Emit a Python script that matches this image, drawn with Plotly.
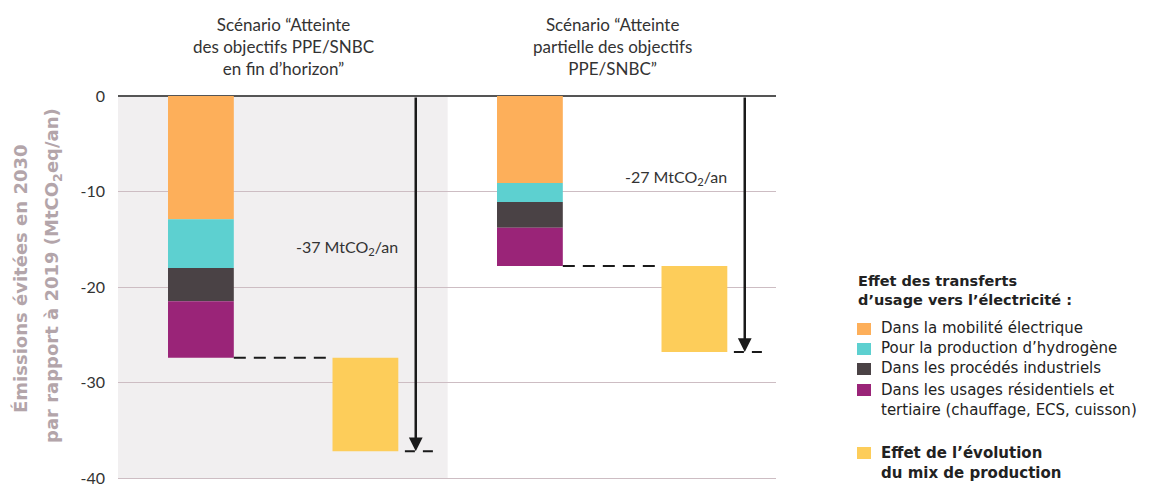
import plotly.graph_objects as go

# ---- data (MtCO2/an, avoided emissions, shown as negative) ----
scenarios = ["Scénario “Atteinte<br>des objectifs PPE/SNBC<br>en fin d’horizon”",
             "Scénario “Atteinte<br>partielle des objectifs<br>PPE/SNBC”"]
mobilite = [12.9, 9.1]
hydrogene = [5.1, 2.0]
industrie = [3.5, 2.7]
residentiel = [5.9, 4.0]
mix = [9.8, 9.0]
total_labels = ["-37 MtCO<sub>2</sub>/an", "-27 MtCO<sub>2</sub>/an"]
label_y = [-15.9, -8.5]

series = [
    ("Dans la mobilité électrique", mobilite, "#FDAF5A"),
    ("Pour la production d’hydrogène", hydrogene, "#5DD0D0"),
    ("Dans les procédés industriels", industrie, "#4A4245"),
    ("Dans les usages résidentiels et<br>tertiaire (chauffage, ECS, cuisson)", residentiel, "#9A2478"),
]
mix_name = "<b>Effet de l’évolution<br>du mix de production</b>"
mix_color = "#FDCD5A"

yticks = [0, -10, -20, -30, -40]

# page offset (default body margin) compensation
OFF = 8
W, H = 1153 - OFF, 485 - OFF
ML, MR, MT, MB = 118 - OFF, 377, 96 - OFF, 5
PW, PH = W - ML - MR, H - MT - MB
YMIN = -40.2

xpos = list(range(len(scenarios)))
BW = 0.2
XMIX = 0.5
XARR = 0.653

fig = go.Figure()

cum = [0.0] * len(scenarios)
for name, vals, col in series:
    fig.add_trace(go.Bar(x=xpos, y=[-v for v in vals], base=[-c for c in cum],
                         width=BW, marker=dict(color=col, line=dict(width=0)),
                         name=name, showlegend=False, hoverinfo="skip"))
    cum = [c + v for c, v in zip(cum, vals)]
elec_total = cum[:]
fig.add_trace(go.Bar(x=[x + XMIX for x in xpos], y=[-v for v in mix],
                     base=[-c for c in elec_total], width=BW,
                     marker=dict(color=mix_color, line=dict(width=0)),
                     name=mix_name, showlegend=False, hoverinfo="skip"))
grand_total = [c + v for c, v in zip(elec_total, mix)]

shapes = []
shapes.append(dict(type="rect", xref="paper", yref="y", x0=0, x1=(0.75 + 0.252) / 2.0,
                   y0=yticks[-1], y1=0, fillcolor="#F1EFF0", line=dict(width=0), layer="below"))
annotations = []
for i, x in enumerate(xpos):
    shapes.append(dict(type="line", xref="x", yref="y", x0=x + BW / 2, x1=x + XMIX - BW / 2,
                       y0=-elec_total[i], y1=-elec_total[i],
                       line=dict(color="#1a1a1a", width=2, dash="12px,8px")))
    shapes.append(dict(type="line", xref="x", yref="y", x0=x + XMIX + BW / 2 + 0.02, x1=x + 0.708,
                       y0=-grand_total[i], y1=-grand_total[i],
                       line=dict(color="#1a1a1a", width=2, dash="10px,8px")))
    annotations.append(dict(x=x + XARR, y=-grand_total[i], ax=x + XARR, ay=0,
                            xref="x", yref="y", axref="x", ayref="y", text="",
                            showarrow=True, arrowhead=2, arrowsize=1.1, arrowwidth=2.5,
                            arrowcolor="#1a1a1a", standoff=0))
    annotations.append(dict(x=x + 0.605, y=label_y[i],
                            xref="x", yref="y", text=total_labels[i], showarrow=False,
                            xanchor="right", yanchor="middle",
                            font=dict(family="Lato", size=16, color="#333333")))
    annotations.append(dict(x=x + 0.25, y=1 + (MT - (46 - OFF)) / PH, xref="x", yref="paper",
                            text=scenarios[i], showarrow=False, xanchor="center", yanchor="middle",
                            font=dict(family="Lato", size=17, color="#333333")))

def px_x(p):
    return (p - OFF - ML) / PW

def px_y(p):
    return (H - MB - (p - OFF)) / PH

ytitle_col = "#B3A5AA"
annotations.append(dict(x=px_x(20), y=px_y(279), xref="paper", yref="paper",
                        text="<b>Émissions évitées en 2030</b>", textangle=-90, showarrow=False,
                        xanchor="center", yanchor="middle",
                        font=dict(family="DejaVu Sans", size=18, color=ytitle_col)))
annotations.append(dict(x=px_x(53), y=px_y(276), xref="paper", yref="paper",
                        text="<b>par rapport à 2019 (MtCO<sub>2</sub>eq/an)</b>", textangle=-90,
                        showarrow=False, xanchor="center", yanchor="middle",
                        font=dict(family="DejaVu Sans", size=18, color=ytitle_col)))

leg_font = dict(family="DejaVu Sans", size=15, color="#222222")
annotations.append(dict(x=px_x(856), y=px_y(290), xref="paper", yref="paper",
                        text="<b>Effet des transferts<br>d’usage vers l’électricité :</b>",
                        showarrow=False, xanchor="left", yanchor="middle", align="left",
                        font=dict(family="DejaVu Sans", size=14.5, color="#222222")))
rows = [329, 349, 369, 390]
for (name, vals, col), ry in zip(series, rows):
    shapes.append(dict(type="rect", xref="paper", yref="paper", x0=px_x(857), x1=px_x(871),
                       y0=px_y(ry + 6), y1=px_y(ry - 6), fillcolor=col, line=dict(width=0)))
    if "<br>" in name:
        annotations.append(dict(x=px_x(879), y=px_y(ry - 11), xref="paper", yref="paper", text=name,
                                showarrow=False, xanchor="left", yanchor="top", align="left",
                                font=leg_font))
    else:
        annotations.append(dict(x=px_x(879), y=px_y(ry - 1), xref="paper", yref="paper", text=name,
                                showarrow=False, xanchor="left", yanchor="middle", align="left",
                                font=leg_font))
shapes.append(dict(type="rect", xref="paper", yref="paper", x0=px_x(857), x1=px_x(871),
                   y0=px_y(459), y1=px_y(447), fillcolor=mix_color, line=dict(width=0)))
annotations.append(dict(x=px_x(879), y=px_y(442), xref="paper", yref="paper", text=mix_name,
                        showarrow=False, xanchor="left", yanchor="top", align="left", font=leg_font))

fig.update_layout(
    width=W, height=H, margin=dict(l=ML, r=MR, t=MT, b=MB, autoexpand=False),
    paper_bgcolor="white", plot_bgcolor="white", barmode="overlay",
    showlegend=False, shapes=shapes, annotations=annotations,
    xaxis=dict(range=[-0.252, 1.748], visible=False, fixedrange=True),
    yaxis=dict(range=[YMIN, 0], tickvals=yticks, ticktext=[str(t) for t in yticks],
               showgrid=True, gridcolor="#CDBDC3", gridwidth=1,
               zeroline=True, zerolinecolor="#555555", zerolinewidth=2,
               showline=False, ticks="", ticklabelstandoff=12, ticklabeloverflow="allow",
               tickfont=dict(family="Lato", size=16, color="#333333"), fixedrange=True),
)

fig.write_html("out.html")
